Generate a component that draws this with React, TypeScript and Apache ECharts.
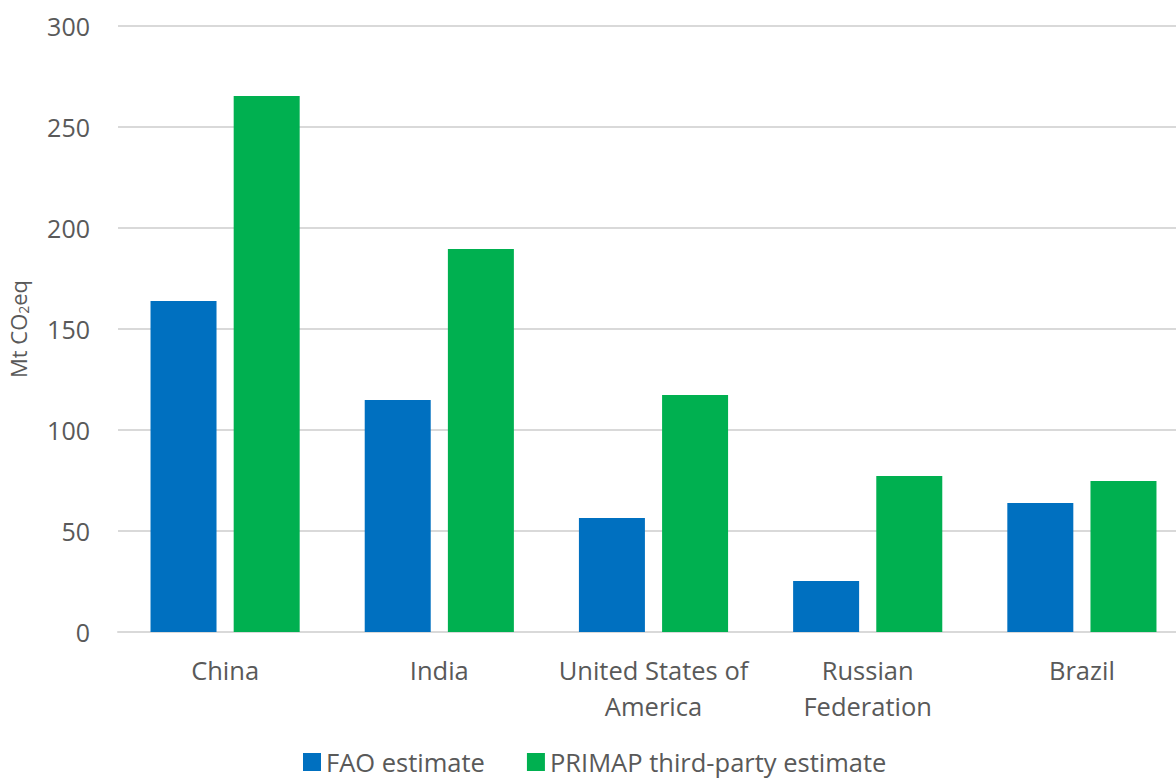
import React, { useEffect, useRef } from "react";
import * as echarts from "echarts";

const categories = ["China", "India", "United States of\nAmerica", "Russian\nFederation", "Brazil"];
const faoValues = [163.9, 114.9, 56.4, 25.2, 63.9];
const primapValues = [265.3, 189.6, 117.3, 77.2, 74.8];
const seriesNames = ["FAO estimate", "PRIMAP third-party estimate"];

const FONT = "'Open Sans', 'Noto Sans', sans-serif";
const TXT = "#595959";

export default function App() {
  const ref = useRef<HTMLDivElement>(null);
  useEffect(() => {
    if (!ref.current) return;
    const chart = echarts.init(ref.current, null, { renderer: "svg" });
    chart.setOption({
      animation: false,
      textStyle: { fontFamily: FONT, color: TXT },
      grid: { left: 118, width: 1071, top: 26, height: 606, containLabel: false, outerBoundsMode: "none" },
      legend: {
        top: 742,
        left: 298,
        itemWidth: 18,
        itemHeight: 18,
        itemGap: 42,
        icon: "rect",
        textStyle: { fontFamily: FONT, color: TXT, fontSize: 25.5, lineHeight: 30 },
        data: seriesNames,
      },
      xAxis: {
        type: "category",
        data: categories,
        axisTick: { show: false },
        axisLine: { lineStyle: { color: "#D9D9D9", width: 2 } },
        axisLabel: { fontFamily: FONT, color: TXT, fontSize: 25.5, lineHeight: 36, margin: 20, interval: 0 },
      },
      yAxis: {
        type: "value",
        min: 0,
        max: 300,
        interval: 50,
        name: "{a|Mt CO}{b|2}{a|eq}",
        nameLocation: "middle",
        nameRotate: 90,
        nameGap: 88,
        nameTextStyle: {
          rich: {
            a: { fontFamily: FONT, color: TXT, fontSize: 22 },
            b: { fontFamily: FONT, color: TXT, fontSize: 14, verticalAlign: "bottom", padding: [11, 0, 0, 0] },
          },
        },
        axisLabel: { fontFamily: FONT, color: TXT, fontSize: 25, margin: 28 },
        splitLine: { lineStyle: { color: "#D9D9D9", width: 2 } },
        axisLine: { show: false },
        axisTick: { show: false },
      },
      series: [
        {
          name: seriesNames[0],
          type: "bar",
          data: faoValues,
          barWidth: 66,
          barGap: "26%",
          itemStyle: { color: "#0070C0" },
        },
        {
          name: seriesNames[1],
          type: "bar",
          data: primapValues,
          barWidth: 66,
          barGap: "26%",
          itemStyle: { color: "#00B050" },
        },
      ],
    });
    return () => chart.dispose();
  }, []);
  return <div ref={ref} style={{ position: "absolute", left: 0, top: 0, width: 1176, height: 778 }} />;
}
